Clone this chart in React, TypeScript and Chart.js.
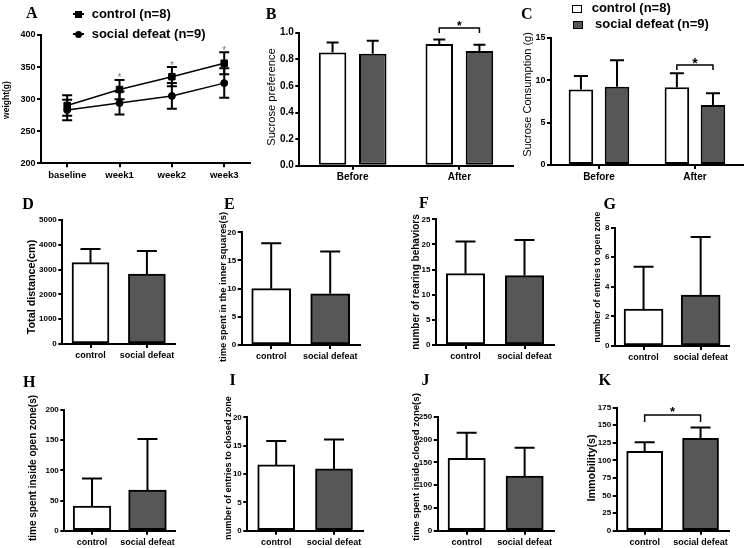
import React, { useEffect, useRef } from 'react';
import { Chart, registerables } from 'chart.js';

Chart.register(...registerables);

// ---------------- data ----------------
// A: body weight
const weekLabels = ['baseline', 'week1', 'week2', 'week3'];
const controlWeight = [290, 315, 335, 356];
const controlWeightSem = [16, 15, 15, 17];
const defeatWeight = [283, 294, 305, 325];
const defeatWeightSem = [16, 18, 20, 23];
const weightSignificant = [false, true, true, true];

// B / C: sucrose tests
const phaseLabels = ['Before', 'After'];
const preferenceControl = [0.852, 0.915];
const preferenceControlSem = [0.075, 0.033];
const preferenceDefeat = [0.842, 0.862];
const preferenceDefeatSem = [0.098, 0.048];

const consumptionControl = [8.9, 9.15];
const consumptionControlSem = [1.6, 1.65];
const consumptionDefeat = [9.23, 7.07];
const consumptionDefeatSem = [3.1, 1.37];

// D - K: control vs social defeat
const groupLabels = ['control', 'social defeat'];
const totalDistance = [3280, 2823];
const totalDistanceSem = [551, 927];
const innerSquareTime = [10.0, 9.1];
const innerSquareTimeSem = [8.05, 7.5];
const rearingCount = [14.2, 13.8];
const rearingCountSem = [6.4, 7.1];
const openEntries = [2.5, 3.45];
const openEntriesSem = [2.86, 3.92];
const openTime = [40.9, 67.4];
const openTimeSem = [45.8, 84.5];
const closedEntries = [11.6, 10.9];
const closedEntriesSem = [4.2, 5.2];
const closedTime = [158.6, 119.9];
const closedTimeSem = [56.3, 62.1];
const immobility = [112.9, 131.3];
const immobilitySem = [12.8, 15.7];

// ---------------- styling ----------------
const FONT = "'Liberation Sans', Arial, Helvetica, sans-serif";
const SERIF = "'Liberation Serif', 'Times New Roman', Times, serif";
const INK = '#000000';
const WHITE = '#ffffff';
const DARK = '#575757';

type Box = { x: number; y: number; w: number; h: number };
type Area = { l: number; t: number; r: number; b: number };
type YAxis = { min: number; max: number; step: number; fmt: (v: number) => string; tickSize: number };
type Bracket = { a: [number, number]; b: [number, number]; y: number; drop: number; starSize: number; starGap: number };
type AxisTitle = { text: string; x: number; y: number; size: number; weight: string };

function makeOptions(box: Box, area: Area, ya: YAxis, xTickSize: number): any {
  return {
    responsive: false,
    maintainAspectRatio: false,
    animation: false,
    events: [],
    layout: { padding: { left: 0, top: area.t - box.y, right: box.x + box.w - area.r, bottom: 0 } },
    plugins: { legend: { display: false }, tooltip: { enabled: false }, title: { display: false } },
    scales: {
      x: {
        type: 'category',
        offset: true,
        border: { display: true, color: INK, width: 2 },
        grid: {
          display: true,
          drawOnChartArea: false,
          drawTicks: true,
          tickLength: 4,
          tickWidth: 2,
          tickColor: INK,
          offset: false,
          color: INK,
          lineWidth: 2,
        },
        ticks: {
          color: INK,
          padding: 2,
          maxRotation: 0,
          autoSkip: false,
          font: { family: FONT, size: xTickSize, weight: 'bold' },
        },
        afterFit: (s: any) => {
          s.height = box.y + box.h - area.b;
        },
      },
      y: {
        type: 'linear',
        min: ya.min,
        max: ya.max,
        border: { display: true, color: INK, width: 2 },
        grid: {
          display: true,
          drawOnChartArea: false,
          drawTicks: true,
          tickLength: 4,
          tickWidth: 2,
          tickColor: INK,
          color: INK,
          lineWidth: 2,
        },
        ticks: {
          stepSize: ya.step,
          color: INK,
          padding: 1.5,
          font: { family: FONT, size: ya.tickSize, weight: 'bold' },
          callback: (v: any) => ya.fmt(Number(v)),
        },
        title: { display: false },
        afterFit: (s: any) => {
          s.width = area.l - box.x;
        },
      },
    },
  };
}

// y-axis title drawn by the chart itself at a fixed page position
function yTitlePlugin(t: AxisTitle, box: Box) {
  return {
    id: 'yTitle',
    afterDraw(chart: any) {
      const { ctx } = chart;
      ctx.save();
      ctx.translate(t.x - box.x, t.y - box.y);
      ctx.rotate(-Math.PI / 2);
      ctx.fillStyle = INK;
      ctx.font = `${t.weight} ${t.size}px ${FONT}`;
      ctx.textAlign = 'center';
      ctx.textBaseline = 'middle';
      ctx.fillText(t.text, 0, 0);
      ctx.restore();
    },
  } as any;
}

function errorBarPlugin(sems: number[][], cap: number, both: boolean, hook: string) {
  const draw = (chart: any) => {
    const { ctx } = chart;
    const ys = chart.scales.y;
    ctx.save();
    ctx.strokeStyle = INK;
    ctx.lineWidth = 2;
    chart.data.datasets.forEach((ds: any, di: number) => {
      const meta = chart.getDatasetMeta(di);
      meta.data.forEach((el: any, i: number) => {
        const v = ds.data[i];
        const e = sems[di][i];
        const x = el.x;
        const top = ys.getPixelForValue(v + e);
        const bottom = ys.getPixelForValue(both ? v - e : v);
        ctx.beginPath();
        ctx.moveTo(x, top);
        ctx.lineTo(x, bottom);
        ctx.moveTo(x - cap, top);
        ctx.lineTo(x + cap, top);
        if (both) {
          ctx.moveTo(x - cap, bottom);
          ctx.lineTo(x + cap, bottom);
        }
        ctx.stroke();
      });
    });
    ctx.restore();
  };
  return { id: 'errorBars', [hook]: draw } as any;
}

function bracketPlugin(br: Bracket) {
  return {
    id: 'bracket',
    afterDatasetsDraw(chart: any) {
      const { ctx } = chart;
      const ys = chart.scales.y;
      const xa = chart.getDatasetMeta(br.a[0]).data[br.a[1]].x;
      const xb = chart.getDatasetMeta(br.b[0]).data[br.b[1]].x;
      const yb = ys.getPixelForValue(br.y);
      const yd = ys.getPixelForValue(br.drop);
      ctx.save();
      ctx.strokeStyle = INK;
      ctx.lineWidth = 1.5;
      ctx.beginPath();
      ctx.moveTo(xa, yd);
      ctx.lineTo(xa, yb);
      ctx.lineTo(xb, yb);
      ctx.lineTo(xb, yd);
      ctx.stroke();
      ctx.fillStyle = INK;
      ctx.font = `bold ${br.starSize}px ${FONT}`;
      ctx.textAlign = 'center';
      ctx.textBaseline = 'alphabetic';
      ctx.fillText('*', (xa + xb) / 2, yb - br.starGap + 0.585 * br.starSize);
      ctx.restore();
    },
  } as any;
}

function weightStarsPlugin() {
  return {
    id: 'weightStars',
    afterDatasetsDraw(chart: any) {
      const { ctx } = chart;
      const ys = chart.scales.y;
      const meta = chart.getDatasetMeta(0);
      ctx.save();
      ctx.fillStyle = '#7a7a7a';
      ctx.font = `10px ${FONT}`;
      ctx.textAlign = 'center';
      ctx.textBaseline = 'alphabetic';
      weightSignificant.forEach((sig, i) => {
        if (!sig) return;
        const x = meta.data[i].x;
        const cap = ys.getPixelForValue(controlWeight[i] + controlWeightSem[i]);
        ctx.fillText('*', x, cap + 1.5);
      });
      ctx.restore();
    },
  } as any;
}

// ---------------- chart builders ----------------
const boxA: Box = { x: 0, y: 0, w: 256, h: 185 };
const areaA: Area = { l: 41, t: 35, r: 251, b: 163.3 };
const titleA: AxisTitle = { text: 'weight(g)', x: 6.7, y: 100, size: 8.5, weight: 'bold' };

function buildWeight(canvas: HTMLCanvasElement) {
  return new Chart(canvas, {
    type: 'line',
    data: {
      labels: weekLabels,
      datasets: [
        {
          label: 'control (n=8)',
          data: controlWeight,
          borderColor: INK,
          borderWidth: 1.5,
          pointStyle: 'rect',
          pointRadius: 4.6,
          pointBackgroundColor: INK,
          pointBorderColor: INK,
          pointBorderWidth: 1,
          tension: 0,
        },
        {
          label: 'social defeat (n=9)',
          data: defeatWeight,
          borderColor: INK,
          borderWidth: 1.5,
          pointStyle: 'circle',
          pointRadius: 3.5,
          pointBackgroundColor: INK,
          pointBorderColor: INK,
          pointBorderWidth: 1,
          tension: 0,
        },
      ],
    } as any,
    options: makeOptions(boxA, areaA, { min: 200, max: 400, step: 50, fmt: (v) => String(v), tickSize: 9 }, 9.5),
    plugins: [
      errorBarPlugin([controlWeightSem, defeatWeightSem], 5, true, 'beforeDatasetsDraw'),
      weightStarsPlugin(),
      yTitlePlugin(titleA, boxA),
    ],
  });
}

type GroupedCfg = {
  control: number[];
  controlSem: number[];
  defeat: number[];
  defeatSem: number[];
  box: Box;
  area: Area;
  yAxis: YAxis;
  title: AxisTitle;
  cap: number;
  catPct: number;
  barPct: number;
  bracket: Bracket;
};

const groupedPanels: { key: string; cfg: GroupedCfg }[] = [
  {
    key: 'B',
    cfg: {
      control: preferenceControl,
      controlSem: preferenceControlSem,
      defeat: preferenceDefeat,
      defeatSem: preferenceDefeatSem,
      box: { x: 258, y: 0, w: 259, h: 185 },
      area: { l: 299.3, t: 32.7, r: 512.7, b: 165.7 },
      yAxis: { min: 0, max: 1, step: 0.2, fmt: (v) => v.toFixed(1), tickSize: 10 },
      title: { text: 'Sucrose preference', x: 271.7, y: 97, size: 11.2, weight: 'normal' },
      cap: 6,
      catPct: 0.753,
      barPct: 0.685,
      bracket: { a: [0, 1], b: [1, 1], y: 1.035, drop: 0.998, starSize: 12, starGap: 5 },
    },
  },
  {
    key: 'C',
    cfg: {
      control: consumptionControl,
      controlSem: consumptionControlSem,
      defeat: consumptionDefeat,
      defeatSem: consumptionDefeatSem,
      box: { x: 517, y: 0, w: 230, h: 185 },
      area: { l: 551, t: 37.7, r: 742.9, b: 165 },
      yAxis: { min: 0, max: 15, step: 5, fmt: (v) => String(v), tickSize: 9 },
      title: { text: 'Sucrose Consumption (g)', x: 528, y: 94.5, size: 11, weight: 'normal' },
      cap: 7,
      catPct: 0.752,
      barPct: 0.68,
      bracket: { a: [0, 1], b: [1, 1], y: 11.78, drop: 11.19, starSize: 14, starGap: 5 },
    },
  },
];

function buildGrouped(cfg: GroupedCfg) {
  return (canvas: HTMLCanvasElement) =>
    new Chart(canvas, {
      type: 'bar',
      data: {
        labels: phaseLabels,
        datasets: [
          {
            label: 'control (n=8)',
            data: cfg.control,
            backgroundColor: WHITE,
            borderColor: INK,
            borderWidth: 2,
            borderSkipped: false,
            categoryPercentage: cfg.catPct,
            barPercentage: cfg.barPct,
          },
          {
            label: 'social defeat (n=9)',
            data: cfg.defeat,
            backgroundColor: DARK,
            borderColor: INK,
            borderWidth: 2,
            borderSkipped: false,
            categoryPercentage: cfg.catPct,
            barPercentage: cfg.barPct,
          },
        ],
      } as any,
      options: makeOptions(cfg.box, cfg.area, cfg.yAxis, 10),
      plugins: [
        errorBarPlugin([cfg.controlSem, cfg.defeatSem], cfg.cap, false, 'afterDatasetsDraw'),
        bracketPlugin(cfg.bracket),
        yTitlePlugin(cfg.title, cfg.box),
      ],
    });
}

type PairCfg = {
  values: number[];
  sems: number[];
  max: number;
  step: number;
  box: Box;
  area: Area;
  title: AxisTitle;
  barW: number;
  cap: number;
  bracket?: Bracket;
};

const pairPanels: { key: string; cfg: PairCfg }[] = [
  { key: 'D', cfg: { values: totalDistance, sems: totalDistanceSem, max: 5000, step: 1000, box: { x: 0, y: 185, w: 185, h: 180 }, area: { l: 62.3, t: 220, r: 175.1, b: 344 }, title: { text: 'Total distance(cm)', x: 32, y: 287, size: 10.8, weight: 'bold' }, barW: 37, cap: 10 } },
  { key: 'E', cfg: { values: innerSquareTime, sems: innerSquareTimeSem, max: 20, step: 5, box: { x: 185, y: 185, w: 185, h: 180 }, area: { l: 241.7, t: 232.3, r: 359.7, b: 345 }, title: { text: 'time spent in the inner squares(s)', x: 223.5, y: 287, size: 9.4, weight: 'bold' }, barW: 39, cap: 10 } },
  { key: 'F', cfg: { values: rearingCount, sems: rearingCountSem, max: 25, step: 5, box: { x: 370, y: 185, w: 185, h: 180 }, area: { l: 436, t: 219.3, r: 554, b: 345 }, title: { text: 'number of rearing behaviors', x: 416, y: 282, size: 10, weight: 'bold' }, barW: 38.4, cap: 10 } },
  { key: 'G', cfg: { values: openEntries, sems: openEntriesSem, max: 8, step: 2, box: { x: 555, y: 185, w: 192, h: 180 }, area: { l: 615, t: 227.7, r: 729.2, b: 346 }, title: { text: 'number of entries to open zone', x: 598, y: 277, size: 8.8, weight: 'bold' }, barW: 39, cap: 10 } },
  { key: 'H', cfg: { values: openTime, sems: openTimeSem, max: 200, step: 50, box: { x: 0, y: 365, w: 185, h: 183 }, area: { l: 64.3, t: 410, r: 175.2, b: 530.7 }, title: { text: 'time spent inside open zone(s)', x: 33.3, y: 468, size: 10, weight: 'bold' }, barW: 37.7, cap: 10 } },
  { key: 'I', cfg: { values: closedEntries, sems: closedEntriesSem, max: 20, step: 5, box: { x: 185, y: 365, w: 185, h: 183 }, area: { l: 247.3, t: 417.3, r: 362.9, b: 530.7 }, title: { text: 'number of entries to closed zone', x: 228, y: 468, size: 9.2, weight: 'bold' }, barW: 37, cap: 10 } },
  { key: 'J', cfg: { values: closedTime, sems: closedTimeSem, max: 250, step: 50, box: { x: 370, y: 365, w: 185, h: 183 }, area: { l: 437.7, t: 416.7, r: 553.6, b: 530.7 }, title: { text: 'time spent inside closed zone(s)', x: 416, y: 467, size: 9.6, weight: 'bold' }, barW: 37.3, cap: 10 } },
  { key: 'K', cfg: { values: immobility, sems: immobilitySem, max: 175, step: 25, box: { x: 555, y: 365, w: 192, h: 183 }, area: { l: 616.7, t: 407.7, r: 728.5, b: 530.7 }, title: { text: 'Immobility(s)', x: 592.3, y: 468, size: 10.8, weight: 'bold' }, barW: 36, cap: 10, bracket: { a: [0, 0], b: [0, 1], y: 164.6, drop: 154.6, starSize: 13, starGap: 7 } } },
];

function buildPair(cfg: PairCfg) {
  return (canvas: HTMLCanvasElement) => {
    const plugins: any[] = [errorBarPlugin([cfg.sems], cfg.cap, false, 'afterDatasetsDraw')];
    if (cfg.bracket) plugins.push(bracketPlugin(cfg.bracket));
    plugins.push(yTitlePlugin(cfg.title, cfg.box));
    return new Chart(canvas, {
      type: 'bar',
      data: {
        labels: groupLabels,
        datasets: [
          {
            data: cfg.values,
            backgroundColor: [WHITE, DARK],
            borderColor: INK,
            borderWidth: 2,
            borderSkipped: false,
            barThickness: cfg.barW,
          },
        ],
      } as any,
      options: makeOptions(cfg.box, cfg.area, { min: 0, max: cfg.max, step: cfg.step, fmt: (v) => String(v), tickSize: 8 }, 9),
      plugins,
    });
  };
}

// ---------------- components ----------------
function ChartPanel({ box, build }: { box: Box; build: (c: HTMLCanvasElement) => Chart }) {
  const ref = useRef<HTMLCanvasElement | null>(null);
  useEffect(() => {
    if (!ref.current) return;
    const chart = build(ref.current);
    return () => chart.destroy();
  }, []);
  return (
    <canvas
      ref={ref}
      width={box.w}
      height={box.h}
      style={{ position: 'absolute', left: box.x, top: box.y, width: box.w, height: box.h }}
    />
  );
}

const panelLetters: { t: string; x: number; y: number }[] = [
  { t: 'A', x: 31.7, y: 13.3 },
  { t: 'B', x: 271, y: 14.3 },
  { t: 'C', x: 526.7, y: 13.8 },
  { t: 'D', x: 28, y: 203.7 },
  { t: 'E', x: 229.3, y: 203.7 },
  { t: 'F', x: 424, y: 203 },
  { t: 'G', x: 609.7, y: 203.7 },
  { t: 'H', x: 29.2, y: 381.7 },
  { t: 'I', x: 232.5, y: 380.3 },
  { t: 'J', x: 425.5, y: 380.3 },
  { t: 'K', x: 604.7, y: 380.3 },
];

function Letter({ t, x, y }: { t: string; x: number; y: number }) {
  return (
    <div
      style={{
        position: 'absolute',
        left: x,
        top: y,
        transform: 'translate(-50%, -50%)',
        fontFamily: SERIF,
        fontWeight: 'bold',
        fontSize: 16,
        lineHeight: 1,
        color: INK,
        whiteSpace: 'nowrap',
      }}
    >
      {t}
    </div>
  );
}

function LegendText({ text, x, y }: { text: string; x: number; y: number }) {
  return (
    <div
      style={{
        position: 'absolute',
        left: x,
        top: y,
        transform: 'translateY(-55%)',
        fontFamily: FONT,
        fontWeight: 'bold',
        fontSize: 13,
        lineHeight: 1,
        color: INK,
        whiteSpace: 'nowrap',
      }}
    >
      {text}
    </div>
  );
}

export default function App() {
  return (
    <div
      style={{
        position: 'absolute',
        left: 0,
        top: 0,
        width: 747,
        height: 548,
        overflow: 'hidden',
        background: '#ffffff',
      }}
    >
      <ChartPanel box={boxA} build={buildWeight} />
      {groupedPanels.map((p) => (
        <ChartPanel key={p.key} box={p.cfg.box} build={buildGrouped(p.cfg)} />
      ))}
      {pairPanels.map((p) => (
        <ChartPanel key={p.key} box={p.cfg.box} build={buildPair(p.cfg)} />
      ))}

      {/* Legend A */}
      <div style={{ position: 'absolute', left: 73, top: 13.25, width: 11, height: 1.5, background: INK }} />
      <div style={{ position: 'absolute', left: 74.5, top: 10.5, width: 7, height: 7, background: INK }} />
      <div style={{ position: 'absolute', left: 73, top: 33.25, width: 11, height: 1.5, background: INK }} />
      <div style={{ position: 'absolute', left: 74.5, top: 30.5, width: 7, height: 7, borderRadius: '50%', background: INK }} />
      <LegendText text="control (n=8)" x={91.7} y={14} />
      <LegendText text="social defeat (n=9)" x={91.7} y={34} />

      {/* Legend C */}
      <div style={{ position: 'absolute', left: 572, top: 5, width: 10, height: 8, boxSizing: 'border-box', border: '1.5px solid #000', background: WHITE }} />
      <div style={{ position: 'absolute', left: 573, top: 20.5, width: 10, height: 8, boxSizing: 'border-box', border: '1px solid #000', background: DARK }} />
      <LegendText text="control (n=8)" x={591.7} y={8.3} />
      <LegendText text="social defeat (n=9)" x={595} y={24} />

      {panelLetters.map((l) => (
        <Letter key={l.t} t={l.t} x={l.x} y={l.y} />
      ))}
    </div>
  );
}
